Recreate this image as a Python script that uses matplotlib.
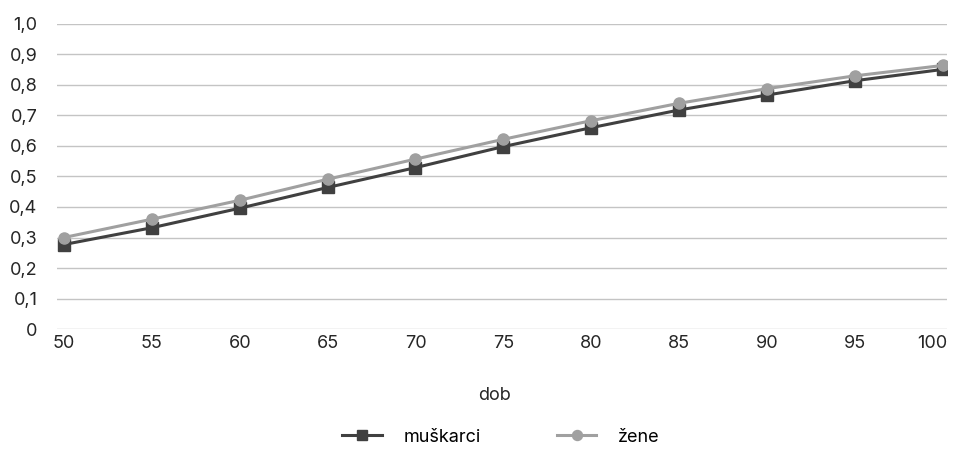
import matplotlib.pyplot as plt
from matplotlib.ticker import FuncFormatter
from matplotlib.transforms import offset_copy

plt.rcParams['font.family'] = ['Inter', 'DejaVu Sans']

ages = [50, 55, 60, 65, 70, 75, 80, 85, 90, 95, 100]
muskarci = [0.277, 0.332, 0.396, 0.464, 0.529, 0.598, 0.660, 0.718, 0.767, 0.814, 0.851]
zene = [0.300, 0.360, 0.422, 0.491, 0.557, 0.622, 0.683, 0.740, 0.788, 0.830, 0.864]

fig = plt.figure(figsize=(9.54, 4.51), dpi=100)
ax = fig.add_axes([0.0597, 0.2705, 0.9330, 0.6763])

x = list(range(len(ages)))
ax.plot(x, muskarci, color='#404040', lw=2.2, marker='s', ms=8,
        label='muškarci', zorder=3)
ax.plot(x, zene, color='#a0a0a0', lw=2.2, marker='o', ms=8,
        label='žene', zorder=4)

ax.set_xlim(-0.08, 10.05)
ax.set_ylim(0, 1.0)
ax.set_yticks([i / 10 for i in range(11)])
ax.yaxis.set_major_formatter(FuncFormatter(
    lambda v, p: '0' if v == 0 else f'{v:.1f}'.replace('.', ',')))
ax.set_xticks(x)
ax.set_xticklabels([str(a) for a in ages])

ax.grid(axis='y', color='#c4c4c4', lw=1)
ax.set_axisbelow(True)
for s in ax.spines.values():
    s.set_visible(False)
ax.tick_params(length=0, labelsize=13, colors='#262626')
ax.tick_params(axis='x', pad=4)
ax.tick_params(axis='y', pad=14)

# last label sits a bit left so it stays inside the figure
last = ax.get_xticklabels()[-1]
last.set_transform(offset_copy(last.get_transform(), fig=fig, x=-10, units='dots'))

fig.text(0.518, 0.122, 'dob', ha='center', va='center', fontsize=13, color='#262626')
fig.legend(*ax.get_legend_handles_labels(), loc='center', bbox_to_anchor=(0.525, 0.031),
           ncol=2, frameon=False, fontsize=13, handlelength=2.2, columnspacing=4.2,
           handletextpad=1.2, markerscale=0.9)

fig.savefig('out.png', dpi=100)
